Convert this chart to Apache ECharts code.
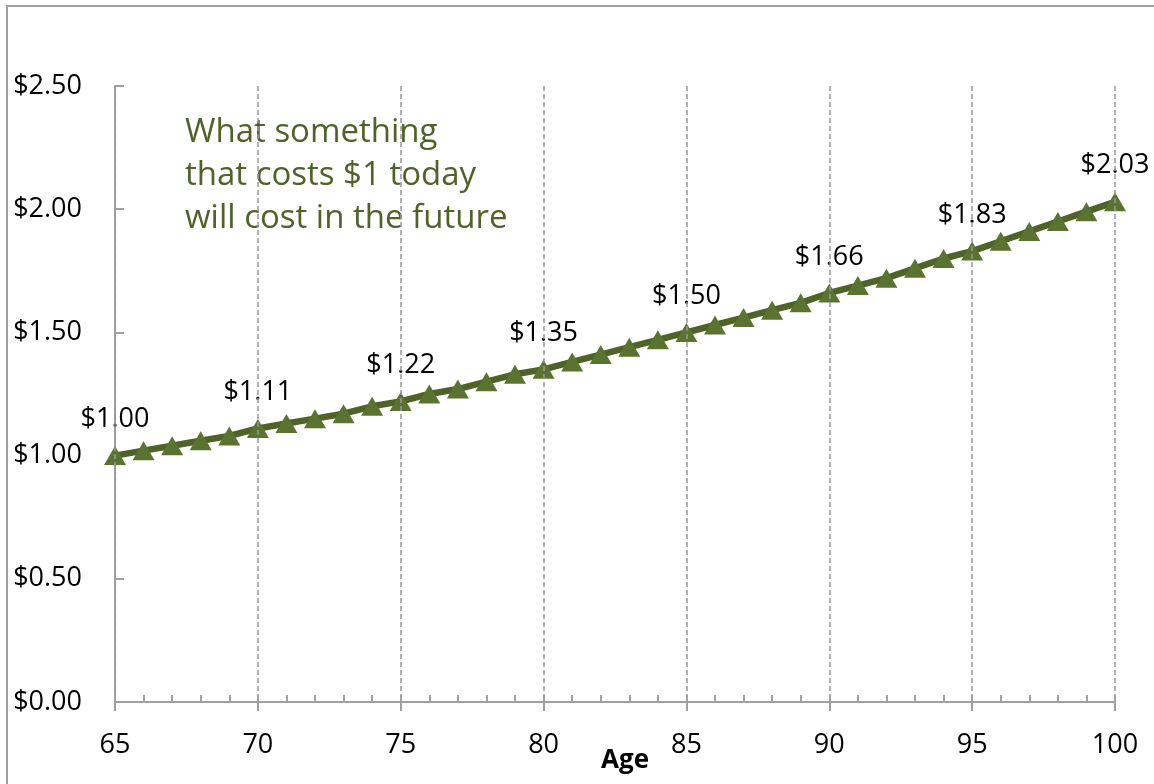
<!DOCTYPE html>
<html>
<head>
<meta charset="utf-8">
<script src="https://cdn.jsdelivr.net/npm/echarts@6/dist/echarts.min.js"></script>
<style>
  html, body { margin: 0; padding: 0; background: #fff; }
  #chart { width: 1154px; height: 784px; }
</style>
</head>
<body>
<div id="chart"></div>
<script>
// ages on the x axis
const ages = [65, 66, 67, 68, 69, 70, 71, 72, 73, 74, 75, 76, 77, 78, 79, 80, 81, 82,
  83, 84, 85, 86, 87, 88, 89, 90, 91, 92, 93, 94, 95, 96, 97, 98, 99, 100]
// what $1 today costs at each age
const costs = [1.00, 1.02, 1.04, 1.06, 1.08, 1.11, 1.13, 1.15, 1.17, 1.20, 1.22, 1.25,
  1.27, 1.30, 1.33, 1.35, 1.38, 1.41, 1.44, 1.47, 1.50, 1.53, 1.56, 1.59, 1.62, 1.66,
  1.69, 1.72, 1.76, 1.80, 1.83, 1.87, 1.91, 1.95, 1.99, 2.03]
// ages that get a value label
const labelledAges = [65, 70, 75, 80, 85, 90, 95, 100]
const noteLines = ['What something', 'that costs $1 today', 'will cost in the future']
const xName = 'Age'

const font = '"Open Sans", "Noto Sans", sans-serif'
const axisGrey = '#a0a0a0'
const olive = '#4f6228'

const chart = echarts.init(document.getElementById('chart'))

chart.setOption({
  animation: false,
  backgroundColor: '#fff',
  grid: { left: 115, right: 39, top: 86, bottom: 82, outerBoundsMode: 'none', containLabel: false },
  xAxis: [
    {
      type: 'value', min: 65, max: 100, interval: 5, z: 5,
      name: xName, nameLocation: 'middle', nameGap: 46, nameMoveOverlap: false,
      nameTextStyle: { fontFamily: font, fontSize: 26, fontWeight: 'bold', color: '#000', padding: [0, 0, 0, 20] },
      axisLine: { lineStyle: { color: axisGrey, width: 2 } },
      axisTick: { show: true, inside: false, length: 9, lineStyle: { color: axisGrey, width: 2 } },
      axisLabel: { fontFamily: font, fontSize: 27, color: '#000', margin: 30 },
      splitLine: { show: true, lineStyle: { color: '#999', width: 1.5, type: [5, 3] } }
    },
    {
      type: 'value', min: 65, max: 100, interval: 1, position: 'bottom', z: 5,
      axisLine: { show: false },
      axisTick: { show: true, inside: true, length: 7, lineStyle: { color: axisGrey, width: 2 } },
      axisLabel: { show: false },
      splitLine: { show: false }
    }
  ],
  yAxis: {
    type: 'value', min: 0, max: 2.5, interval: 0.5,
    axisLine: { show: true, lineStyle: { color: axisGrey, width: 2 } },
    axisTick: { show: true, inside: true, length: 9, lineStyle: { color: axisGrey, width: 2 } },
    axisLabel: {
      fontFamily: font, fontSize: 27, color: '#000', margin: 33,
      formatter: v => '$' + v.toFixed(2)
    },
    splitLine: { show: false }
  },
  series: [{
    type: 'line',
    data: ages.map((a, i) => [a, costs[i]]),
    symbol: 'triangle',
    symbolSize: [22, 19],
    showAllSymbol: true,
    lineStyle: { color: olive, width: 6.5 },
    itemStyle: { color: '#5b7330' },
    label: {
      show: true, position: 'top', distance: 13,
      fontFamily: font, fontSize: 27, color: '#000',
      formatter: p => labelledAges.includes(p.value[0]) ? '$' + p.value[1].toFixed(2) : ''
    }
  }],
  graphic: [
    {
      type: 'rect', silent: true,
      shape: { x: 7, y: 6, width: 1300, height: 900 },
      style: { fill: 'none', stroke: axisGrey, lineWidth: 2 }
    },
    {
      type: 'text', left: 185, top: 111,
      style: {
        text: noteLines.join('\n'), fontFamily: font, fontSize: 33,
        lineHeight: 43, fill: olive
      }
    }
  ]
})
</script>
</body>
</html>
